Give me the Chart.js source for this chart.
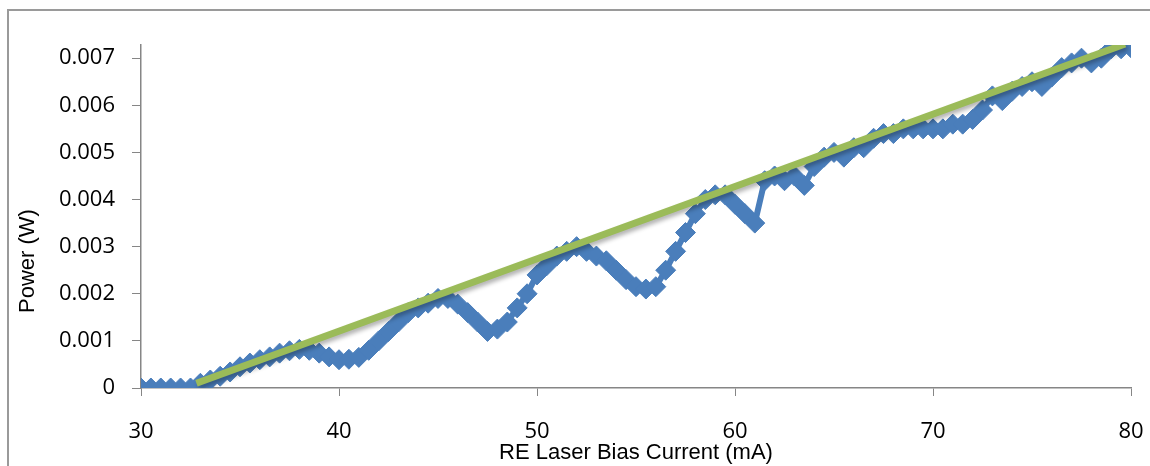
<!DOCTYPE html>
<html>
<head>
<meta charset="utf-8">
<script src="https://cdn.jsdelivr.net/npm/chart.js@4.4.1/dist/chart.umd.min.js"></script>
<style>
  html, body { margin: 0; padding: 0; background: #fff; }
  #wrap { position: relative; width: 1150px; height: 466px; overflow: hidden; }
  #frame { position: absolute; left: 7px; top: 9px; width: 1200px; height: 500px;
           border-left: 2px solid #9a9a9a; border-top: 2px solid #9a9a9a; }
  #powerChart { position: absolute; left: 0; top: 0; }
</style>
</head>
<body>
<div id="wrap">
  <div id="frame"></div>
  <canvas id="powerChart" width="1150" height="466"></canvas>
</div>
<script>
// bias current (mA) and measured power (W)
const currentMA = [
  30, 30.5, 31, 31.5, 32, 32.5, 33, 33.5, 34, 34.5,
  35, 35.5, 36, 36.5, 37, 37.5, 38, 38.5, 39, 39.5,
  40, 40.5, 41, 41.5, 42, 42.5, 43, 43.5, 44, 44.5,
  45, 45.5, 46, 46.5, 47, 47.5, 48, 48.5, 49, 49.5,
  50, 50.5, 51, 51.5, 52, 52.5, 53, 53.5, 54, 54.5,
  55, 55.5, 56, 56.5, 57, 57.5, 58, 58.5, 59, 59.5,
  60, 60.5, 61, 61.5, 62, 62.5, 63, 63.5, 64, 64.5,
  65, 65.5, 66, 66.5, 67, 67.5, 68, 68.5, 69, 69.5,
  70, 70.5, 71, 71.5, 72, 72.5, 73, 73.5, 74, 74.5,
  75, 75.5, 76, 76.5, 77, 77.5, 78, 78.5, 79, 79.5,
  80
];
const powerW = [
  0, 0, 0, 0, 0, 0, 0.0001, 0.00017, 0.00025, 0.00034,
  0.00045, 0.00053, 0.0006, 0.00066, 0.00074, 0.00079, 0.00082, 0.0008, 0.00074, 0.00066,
  0.0006, 0.00061, 0.00065, 0.0008, 0.001, 0.0012, 0.0014, 0.0016, 0.0017, 0.0018,
  0.0019, 0.0019, 0.00178, 0.0016, 0.0014, 0.0012, 0.00125, 0.0014, 0.0017, 0.002,
  0.0024, 0.0026, 0.0028, 0.0029, 0.003, 0.0029, 0.0028, 0.0027, 0.0025, 0.0023,
  0.00215, 0.0021, 0.00215, 0.0025, 0.0029, 0.0033, 0.0037, 0.004, 0.0041, 0.0041,
  0.0039, 0.0037, 0.0035, 0.0044, 0.0045, 0.0044, 0.0045, 0.0043, 0.0047, 0.0049,
  0.005, 0.0049, 0.0051, 0.0051, 0.0053, 0.0054, 0.0054, 0.0055, 0.0055, 0.0055,
  0.0055, 0.0055, 0.0056, 0.0056, 0.0057, 0.0059, 0.0062, 0.0061, 0.0063, 0.0064,
  0.0065, 0.0064, 0.0066, 0.0068, 0.0069, 0.007, 0.0069, 0.007, 0.0072, 0.0072,
  0.00722
];
// linear trendline end points
const trendX = [32.8, 79.7];
const trendY = [0.0001, 0.0073];

const xTicks = [30, 40, 50, 60, 70, 80];

const toPoints = (xs, ys) => xs.map((x, i) => ({ x, y: ys[i] }));

const blue = '#4A7EBB';
const green = '#9BBB59';
const axisGrey = '#868686';
const tickFont = { family: '"Open Sans", sans-serif', size: 22 };
const titleFont = { family: '"Liberation Sans", Arial, sans-serif', size: 22 };

// soft shadow under the trendline, like the original
const shadowPlugin = {
  id: 'trendShadow',
  beforeDatasetDraw(chart, args) {
    if (args.index !== 1) return;
    const ctx = chart.ctx;
    ctx.save();
    ctx.shadowColor = 'rgba(0,0,0,0.3)';
    ctx.shadowBlur = 4;
    ctx.shadowOffsetX = 2;
    ctx.shadowOffsetY = 3;
  },
  afterDatasetDraw(chart, args) {
    if (args.index !== 1) return;
    chart.ctx.restore();
  }
};

// y title sits lower than the axis centre in the original
const yTitlePlugin = {
  id: 'yTitle',
  afterDraw(chart) {
    const ctx = chart.ctx;
    ctx.save();
    ctx.translate(28, 261);
    ctx.rotate(-Math.PI / 2);
    ctx.font = `${titleFont.size}px ${titleFont.family}`;
    ctx.fillStyle = '#000';
    ctx.textAlign = 'center';
    ctx.textBaseline = 'middle';
    ctx.fillText('Power (W)', 0, 0);
    ctx.restore();
  }
};

new Chart(document.getElementById('powerChart'), {
  type: 'scatter',
  data: {
    datasets: [{
      label: 'Power',
      data: toPoints(currentMA, powerW),
      showLine: true,
      borderColor: blue,
      borderWidth: 6,
      backgroundColor: blue,
      pointStyle: 'rectRot',
      pointRadius: 10,
      pointBorderWidth: 1,
      pointBorderColor: blue,
      order: 2
    }, {
      label: 'Linear',
      data: toPoints(trendX, trendY),
      showLine: true,
      borderColor: green,
      borderWidth: 7,
      borderCapStyle: 'butt',
      pointRadius: 0,
      order: 1
    }]
  },
  options: {
    responsive: false,
    animation: false,
    layout: { padding: { top: 45, right: 19, left: 0, bottom: 0 } },
    plugins: {
      legend: { display: false },
      tooltip: { enabled: false }
    },
    scales: {
      x: {
        type: 'linear',
        min: 30,
        max: 80,
        afterBuildTicks: (s) => { s.ticks = xTicks.map(v => ({ value: v })); },
        afterFit: (s) => { s.height = 78; s.paddingLeft = 0; s.paddingRight = 0; },
        ticks: { color: '#000', font: tickFont, padding: 23, maxRotation: 0 },
        grid: { drawOnChartArea: false, color: axisGrey, tickLength: 8 },
        border: { color: axisGrey, width: 1.5 },
        title: { display: true, text: 'RE Laser Bias Current (mA)', color: '#000', font: titleFont, padding: { top: 0, bottom: 0 } }
      },
      y: {
        min: 0,
        max: 0.00728,
        afterFit: (s) => { s.width = 141; },
        ticks: {
          stepSize: 0.001,
          includeBounds: false,
          color: '#000',
          font: tickFont,
          padding: 17,
          callback: (v) => v === 0 ? '0' : v.toFixed(3)
        },
        grid: { drawOnChartArea: false, color: axisGrey, tickLength: 9 },
        border: { color: axisGrey, width: 1.5 }
      }
    }
  },
  plugins: [shadowPlugin, yTitlePlugin]
});
</script>
</body>
</html>
